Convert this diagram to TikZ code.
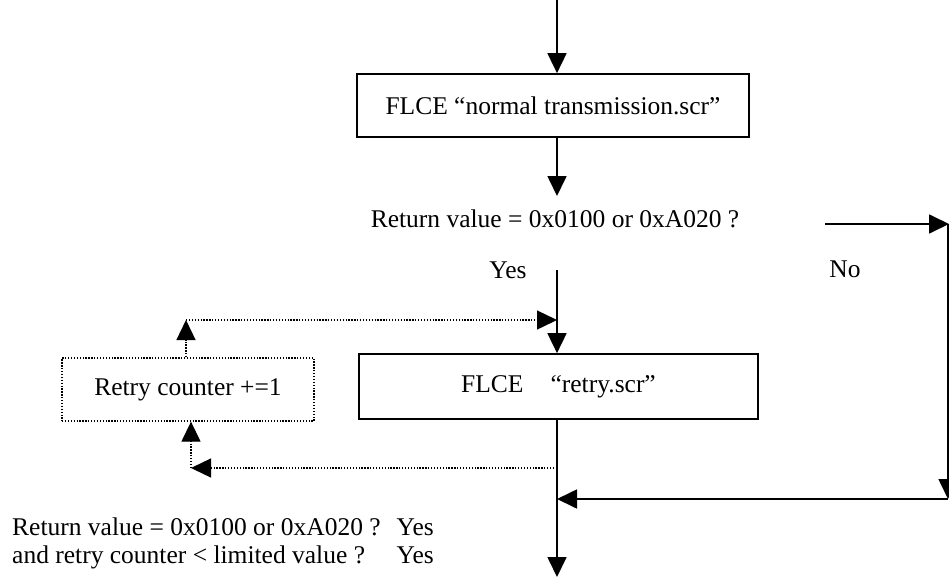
\documentclass[tikz,border=0pt]{standalone}
\usepackage{fontspec}
\setmainfont{Liberation Serif}
\usetikzlibrary{arrows.meta}
\begin{document}
\begin{tikzpicture}[x=1pt, y=-1pt,
    font=\fontsize{25.5}{28}\selectfont,
    conn/.style={line width=1.7pt, -{Triangle[length=20pt, width=19pt]}},
    dotconn/.style={line width=1.3pt, dash pattern=on 1.3pt off 1.6pt,
                    -{Triangle[length=20pt, width=19pt]}},
    procbox/.style={draw, line width=1.7pt, inner sep=0pt, align=center},
    dotbox/.style={draw, line width=1.3pt, dash pattern=on 1.3pt off 1.6pt,
                   inner sep=0pt, align=center},
    lbl/.style={inner sep=0pt, anchor=base}]
  \useasboundingbox (0,0) rectangle (949,581);

  % main column
  \coordinate (top) at (557,0);

  % first script call
  \node[procbox, minimum width=392pt, minimum height=63pt] (normal) at (553,105.5)
    {FLCE “normal transmission.scr”};
  \draw[conn] (top) -- (top |- normal.north);
  \coordinate (q1) at (557,196);
  \draw[conn] (top |- normal.south) -- (q1);

  % first decision
  \node[lbl] (ret1) at (555,227) {Return value = 0x0100 or 0xA020 ?};
  \node[lbl] (yes1) at (508,278) {Yes};
  \node[lbl] (no1) at (845,277) {No};

  % "No" branch along the right edge
  \coordinate (nostart) at (825,224);
  \coordinate (ne) at (949,224);
  \coordinate (rtop) at (948,224);
  \coordinate (rbot) at (948,499);
  \coordinate (join) at (557,499);
  \draw[conn] (nostart) -- (ne);
  \draw[conn] (rtop) -- (rbot);
  \draw[conn] (rbot) -- (join);

  % retry script call
  \node[procbox, minimum width=399pt, minimum height=65pt] (retry) at (558.5,386.5)
    {FLCE\hspace{27pt}“retry.scr”};
  \coordinate (yesstart) at (557,270);
  \draw[conn] (yesstart) -- (yesstart |- retry.north);
  \coordinate (bottom) at (557,577);
  \draw[conn] (yesstart |- retry.south) -- (bottom);

  % retry counter loop
  \node[dotbox, minimum width=252pt, minimum height=63pt] (counter) at (188,389.5)
    {Retry counter +=1};
  \coordinate (d1) at (186,320);
  \draw[dotconn] (d1 |- counter.north) -- (d1);
  \draw[dotconn] (d1) -- (d1 -| top);
  \coordinate (d2) at (191,468);
  \draw[dotconn] (top |- d2) -- (d2);
  \draw[dotconn] (d2) -- (d2 |- counter.south);

  % exit condition
  \node[inner sep=0pt, anchor=base west] (cond) at (12,535)
    {\begin{tabular}[t]{@{}l@{\hspace{16pt}}l@{}}
      Return value = 0x0100 or 0xA020 ? & Yes\\
      and retry counter < limited value ? & Yes
    \end{tabular}};
\end{tikzpicture}
\end{document}
